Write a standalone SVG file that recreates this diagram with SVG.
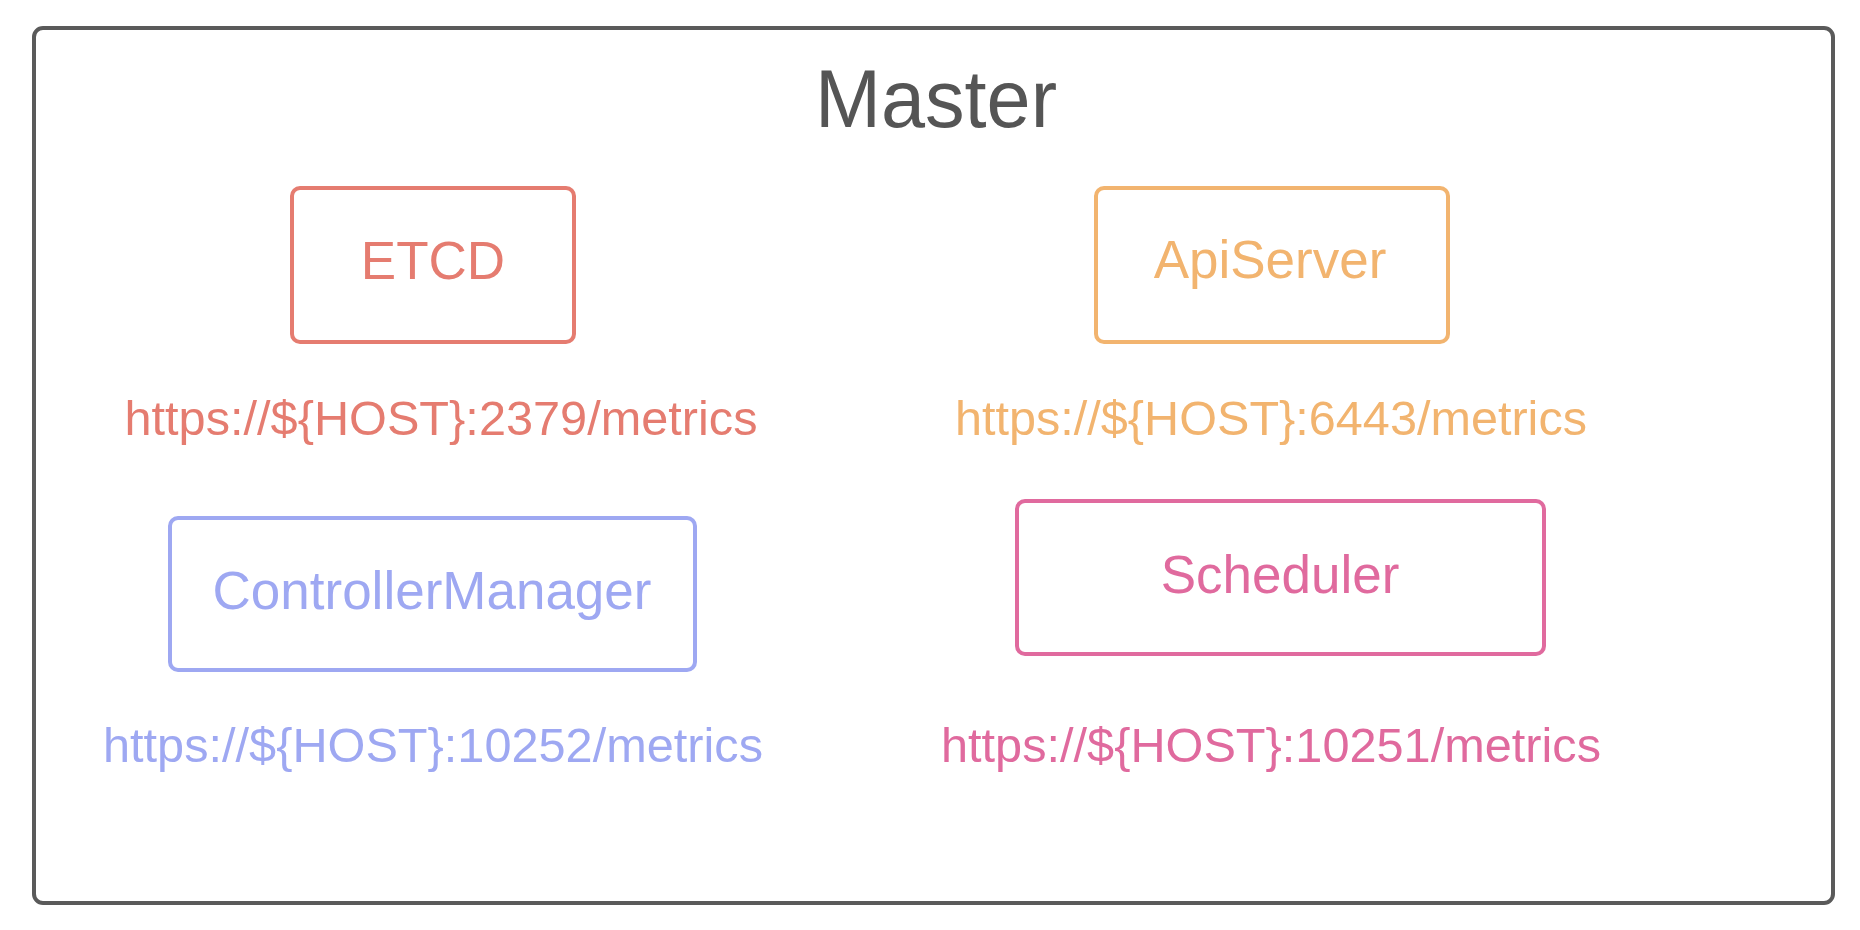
<svg xmlns="http://www.w3.org/2000/svg" width="1860" height="930" viewBox="0 0 1860 930">
<style>
text{font-family:"Liberation Sans",Arial,Helvetica,sans-serif;text-anchor:middle}
.box{fill:#fff;stroke-width:4}
.lbl{font-size:53px}
.url{font-size:49px}
.etcd{stroke:#e57c70}.etcdt{fill:#e57c70}
.api{stroke:#f2b46f}.apit{fill:#f2b46f}
.cm{stroke:#9ea8f2}.cmt{fill:#9ea8f2}
.sch{stroke:#e06a9e}.scht{fill:#e06a9e}
</style>
<rect width="1860" height="930" fill="#fff"/>
<g id="master">
<rect x="34" y="28" width="1799" height="875" rx="9" fill="#fff" stroke="#5a5a5a" stroke-width="4"/>
<text x="936" y="127" font-size="82" fill="#555" textLength="242" lengthAdjust="spacingAndGlyphs">Master</text>
</g>
<g id="etcd">
<rect class="box etcd" x="292" y="188" width="282" height="154" rx="8"/>
<text class="lbl etcdt" x="433" y="279">ETCD</text>
<text class="url etcdt" x="441" y="435" textLength="633" lengthAdjust="spacingAndGlyphs">https://${HOST}:2379/metrics</text>
</g>
<g id="apiserver">
<rect class="box api" x="1096" y="188" width="352" height="154" rx="8"/>
<text class="lbl apit" x="1270" y="278">ApiServer</text>
<text class="url apit" x="1271" y="435" textLength="632" lengthAdjust="spacingAndGlyphs">https://${HOST}:6443/metrics</text>
</g>
<g id="controllermanager">
<rect class="box cm" x="170" y="518" width="525" height="152" rx="8"/>
<text class="lbl cmt" x="432" y="609">ControllerManager</text>
<text class="url cmt" x="433" y="762" textLength="660" lengthAdjust="spacingAndGlyphs">https://${HOST}:10252/metrics</text>
</g>
<g id="scheduler">
<rect class="box sch" x="1017" y="501" width="527" height="153" rx="8"/>
<text class="lbl scht" x="1280" y="593">Scheduler</text>
<text class="url scht" x="1271" y="762" textLength="660" lengthAdjust="spacingAndGlyphs">https://${HOST}:10251/metrics</text>
</g>
<g id="connectors"></g>
</svg>
